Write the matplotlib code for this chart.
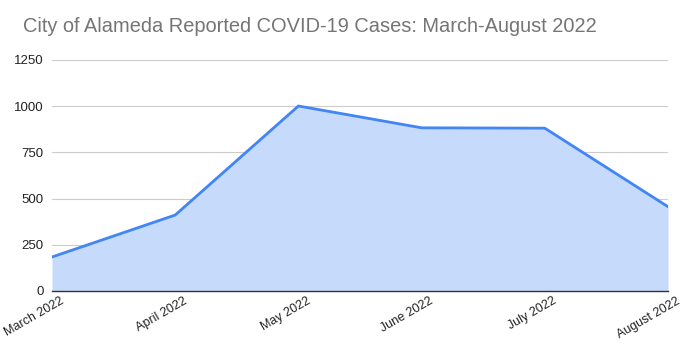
import matplotlib.pyplot as plt
import matplotlib.transforms as mtransforms

plt.rcParams['font.family'] = ['Liberation Sans', 'DejaVu Sans']

months = ['March 2022', 'April 2022', 'May 2022', 'June 2022', 'July 2022', 'August 2022']
cases = [184, 411, 1001, 883, 881, 456]
yticks = [0, 250, 500, 750, 1000, 1250]

fig = plt.figure(figsize=(6.86, 3.56), dpi=100)
ax = fig.add_axes([0.0758, 0.1826, 0.898, 0.6489])

x = list(range(len(months)))
ax.fill_between(x, cases, 0, color='#c6dafc', lw=0, zorder=2)
ax.plot(x, cases, color='#4285f4', lw=2, zorder=3)

ax.set_xlim(0, len(months) - 1)
ax.set_ylim(0, 1250)
ax.set_yticks(yticks)
ax.set_yticklabels([str(v) for v in yticks], fontsize=9.5, color='#222222')
ax.set_xticks(x)
ax.set_xticklabels(months, fontsize=9, color='#222222', rotation=30, ha='right', va='top',
                   rotation_mode='anchor')
ax.tick_params(length=0, pad=6)
ax.tick_params(axis='x', pad=3)
# shift the rotated labels a little to the right, like the original
offset = mtransforms.ScaledTranslation(8 / 100, 0, fig.dpi_scale_trans)
for lab in ax.get_xticklabels():
    lab.set_transform(lab.get_transform() + offset)

ax.grid(axis='y', color='#cccccc', lw=0.8, zorder=1)
ax.set_axisbelow(True)
for s in ['top', 'right', 'left']:
    ax.spines[s].set_visible(False)
ax.spines['bottom'].set_color('#333333')
ax.spines['bottom'].set_linewidth(1)
ax.spines['bottom'].set_zorder(4)

fig.text(23 / 686, 1 - 27 / 356, 'City of Alameda Reported COVID-19 Cases: March-August 2022',
         fontsize=14.4, color='#757575', va='center', ha='left')

fig.savefig('out.png', dpi=100)
